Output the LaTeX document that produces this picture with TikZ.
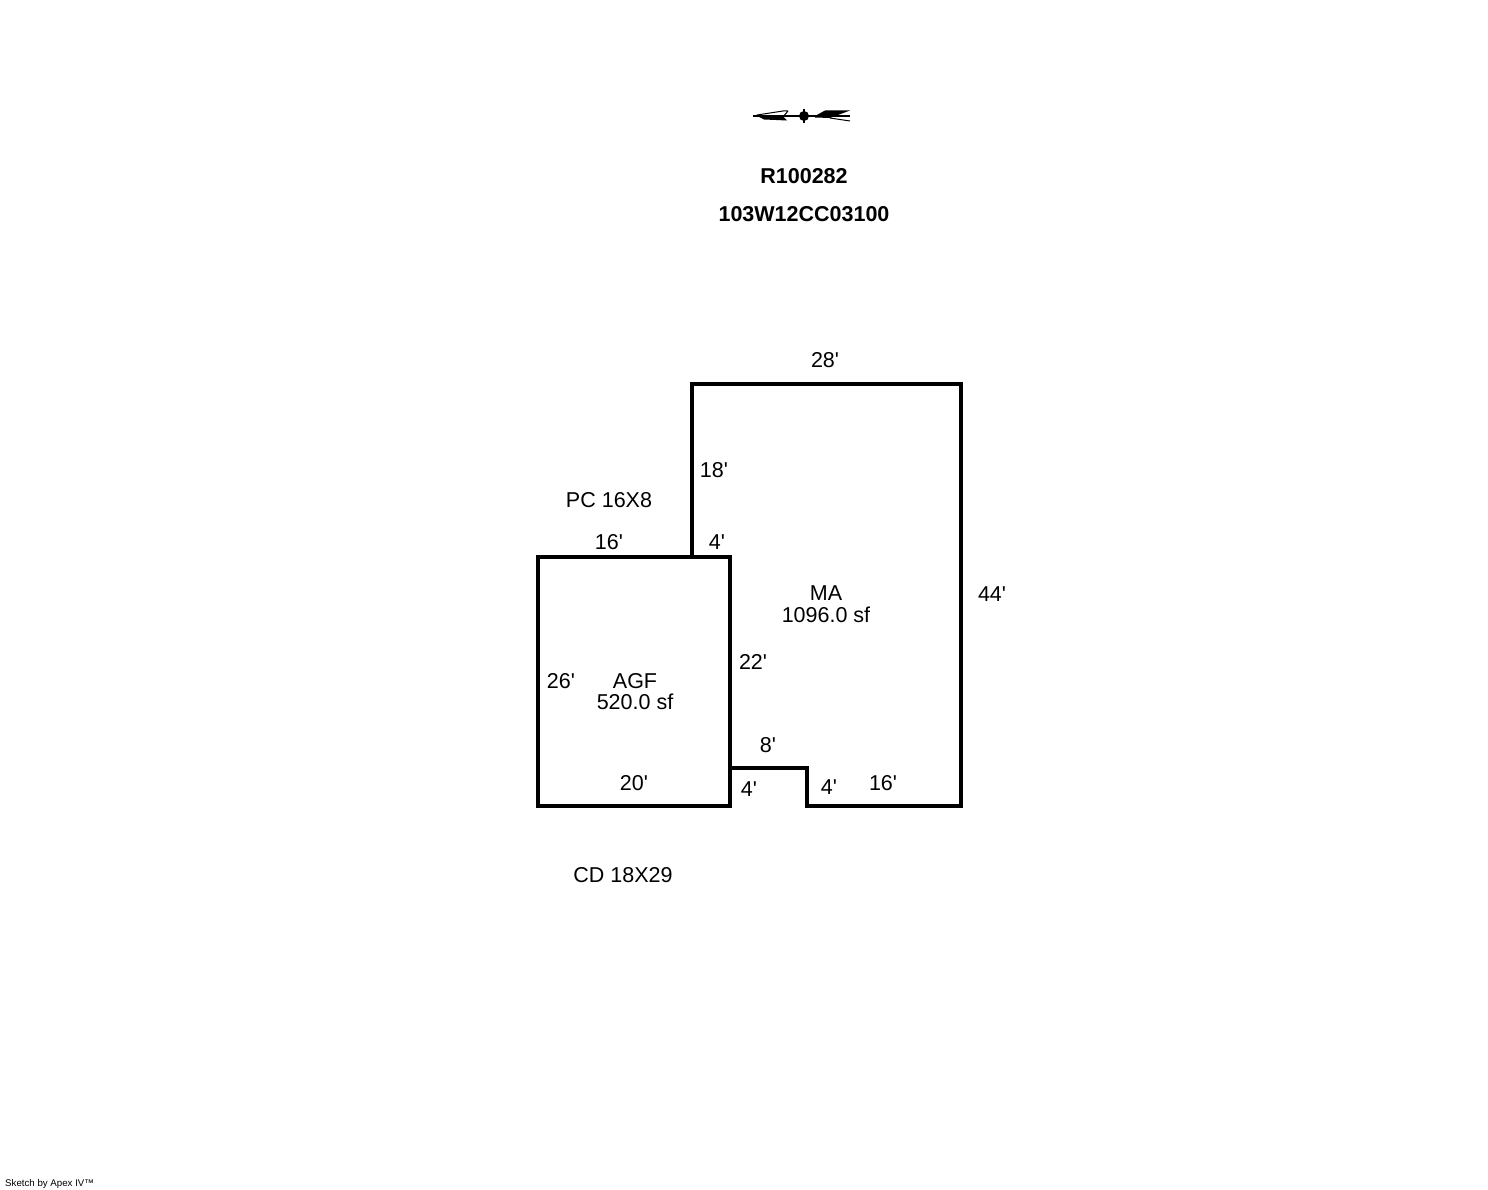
\documentclass[tikz,border=0pt]{standalone}
\usepackage{fontspec}
\setmainfont{Liberation Sans}
\newcommand{\ft}{\textquotesingle}
\tikzset{
	wall/.style={draw=black, line width=3.5pt, line join=miter},
	dimtext/.style={inner sep=0pt, font=\fontsize{21.5}{21.5}\selectfont},
	areatext/.style={dimtext, align=center, font=\fontsize{21.5}{21.5}\selectfont},
	headtext/.style={inner sep=0pt, font=\fontsize{21.5}{21.5}\selectfont\bfseries}
}
\begin{document}
\begin{tikzpicture}[x=1pt, y=-1pt]
			\useasboundingbox (0, 0) rectangle (1488, 1190);

			\draw[wall] (692, 557) to (692, 384) to (961, 384) to (961, 806) to (807, 806) to (807, 768) to (730, 768);
			\draw[wall] (538, 557) to (730, 557) to (730, 806) to (538, 806) -- cycle;

			% compass
			\draw[line width=1.2pt] (753, 116) to (850, 116);
			\draw[line width=1.2pt] (804, 109) to (804, 123);
			\fill[black] (804, 116) circle (5);
			\fill[black] (756, 115.5) to (783, 116.5) to (787, 120.5) to (764, 119.5) -- cycle;
			\draw[line width=1pt, line join=bevel] (757, 115) to (783, 111) to (788, 111) to (783, 117);
			\fill[black] (815, 116) to (825, 110.5) to (850, 110.5) to (830, 118) to (815, 117.5) -- cycle;
			\draw[line width=1pt, line join=bevel] (830, 118) to (850, 121);

			\node[headtext] (parcel) at (804, 176) {R100282};
			\node[headtext] (account) at (804, 214) {103W12CC03100};

			\foreach \name/\px/\py/\txt in {top/825/360/28\ft, upper/714/470/18\ft, porch/609/500/PC 16X8, garagetop/609/542/16\ft, stepin/717/542/4\ft, right/992/594/44\ft, inner/753/662/22\ft, garageleft/561/681/26\ft, notch/768/745/8\ft, garagebottom/634/783/20\ft, notchleft/749/789/4\ft, notchright/829/787/4\ft, bottom/883/783/16\ft, deck/623/875/CD 18X29} {
				\node[dimtext] (lbl-\name) at (\px, \py) {\txt};
			}

			\node[areatext] (mainarea) at (826, 604.5) {MA\\[0.3pt]1096.0 sf};
			\node[areatext] (garagearea) at (635, 691.5) {AGF\\[0.3pt]520.0 sf};

			\node[inner sep=0pt, anchor=west, font=\fontsize{9.7}{9.7}\selectfont] (credit) at (5, 1184) {Sketch by Apex IV™};
		\end{tikzpicture}
\end{document}
